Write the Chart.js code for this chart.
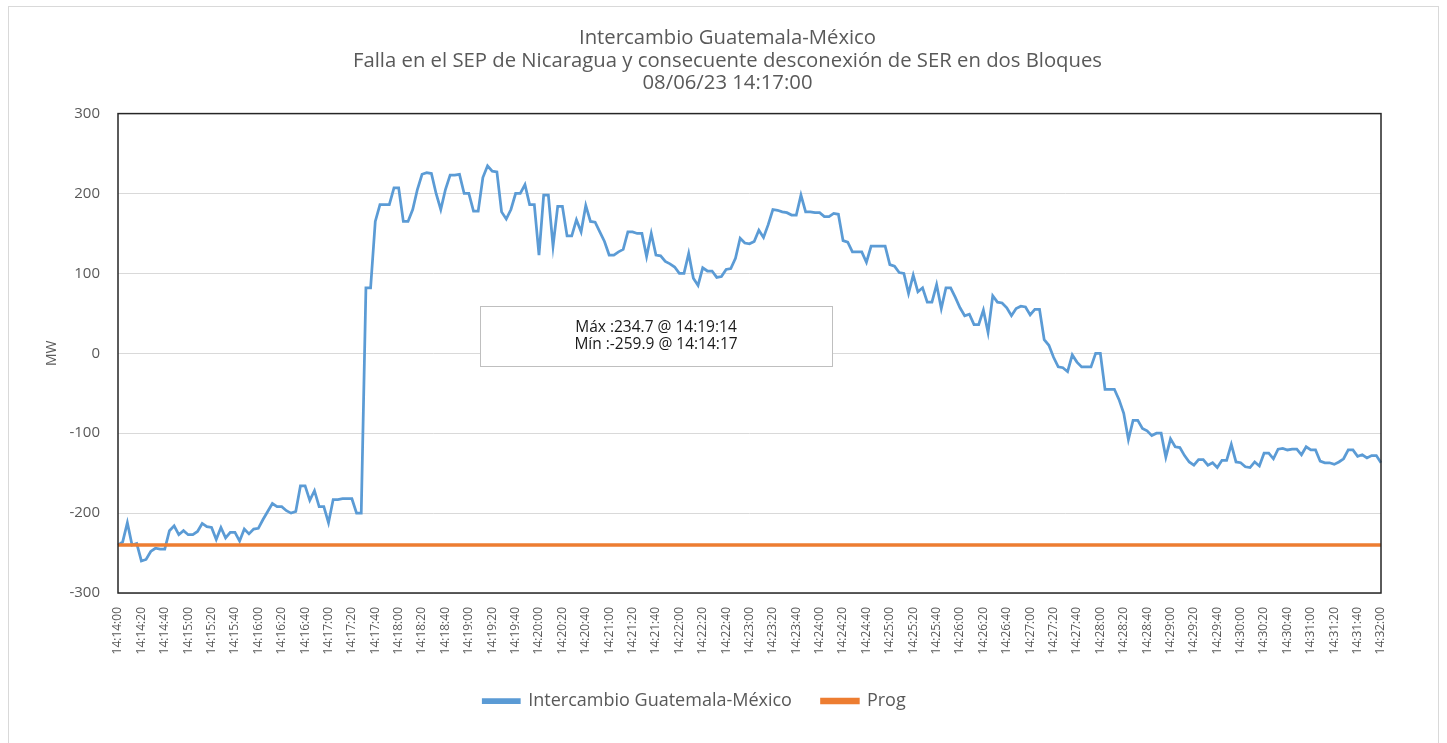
<!DOCTYPE html>
<html lang="es">
<head>
<meta charset="UTF-8">
<title>Intercambio Guatemala-México</title>
<script src="https://cdn.jsdelivr.net/npm/chart.js@4.4.0/dist/chart.umd.min.js"></script>
<style>
html,body{margin:0;padding:0;background:#fff;}
#wrap{width:1447px;height:743px;}
</style>
</head>
<body>
<div id="wrap"><canvas id="grafica" width="1447" height="743"></canvas></div>
<script>
// muestras cada 4 s, de 14:14:00 a 14:32:00
const inicio = 14 * 3600 + 14 * 60;
const paso = 4;

const intercambio = [
  -240, -236, -212, -240, -238, -259.9, -258, -248, -244, -245,
  -245, -222, -216, -227, -222, -227, -227, -223, -213, -217,
  -218, -233, -218, -231, -224, -224, -235, -220, -226, -220,
  -219, -208, -198, -188, -192, -192, -197, -200, -198, -166,
  -166, -184, -172, -192, -192, -212, -183, -183, -182, -182,
  -182, -200, -200, 82, 82, 165, 186, 186, 186, 207,
  207, 165, 165, 180, 205, 224, 226, 225, 200, 180,
  205, 223, 223, 224, 200, 200, 178, 178, 220, 234.7,
  228, 227, 177, 168, 180, 200, 200, 211, 186, 186,
  123, 198, 198, 134, 184, 184, 147, 147, 167, 152,
  185, 165, 164, 152, 140, 123, 123, 127, 130, 152,
  152, 150, 150, 121, 150, 123, 122, 115, 112, 108,
  100, 100, 125, 94, 85, 107, 103, 103, 95, 96,
  105, 106, 119, 144, 138, 137, 140, 154, 145, 161,
  180, 179, 177, 176, 173, 173, 198, 177, 177, 176,
  176, 171, 171, 175, 174, 141, 139, 127, 127, 127,
  114, 134, 134, 134, 134, 111, 109, 101, 100, 75,
  98, 77, 82, 64, 64, 86, 56, 82, 82, 70,
  57, 47, 49, 36, 36, 54, 26, 72, 64, 63,
  57, 47, 56, 59, 58, 48, 55, 55, 17, 10,
  -5, -17, -18, -23, -2, -11, -17, -17, -17, 0,
  0, -45, -45, -45, -58, -75, -108, -84, -84, -94,
  -97, -103, -100, -100, -130, -107, -117, -118, -128, -136,
  -140, -133, -133, -140, -137, -143, -134, -134, -114, -136,
  -137, -142, -143, -136, -141, -125, -125, -132, -120, -119,
  -121, -120, -120, -127, -117, -121, -121, -135, -137, -137,
  -139, -136, -132, -121, -121, -129, -127, -131, -128, -128,
  -137
];

const prog = -240;

const titulo = [
  'Intercambio Guatemala-México',
  'Falla en el SEP de Nicaragua y consecuente desconexión de SER en dos Bloques',
  '08/06/23 14:17:00'
];
const notas = ['Máx :234.7 @ 14:19:14', 'Mín :-259.9 @ 14:14:17'];

function hora(s) {
  const h = Math.floor(s / 3600), m = Math.floor(s / 60) % 60, x = s % 60;
  return [h, m, x].map(v => String(v).padStart(2, '0')).join(':');
}
const tiempos = intercambio.map((_, i) => hora(inicio + i * paso));

const fuente = "'Open Sans', 'Liberation Sans', sans-serif";
const gris = '#595959';

// marco exterior, borde del area y cuadro de max/min
const marco = {
  id: 'marco',
  afterLayout(chart) {
    // el titulo va centrado en todo el ancho, no solo hasta el borde derecho del area
    const t = chart.titleBlock;
    if (t) { t.left += 33; t.right += 33; }
  },
  beforeDraw(chart) {
    const c = chart.ctx;
    c.save();
    c.fillStyle = '#fff';
    c.fillRect(0, 0, chart.width, chart.height);
    c.strokeStyle = '#d9d9d9';
    c.lineWidth = 1;
    c.strokeRect(8.5, 6.5, 1430, 760);
    c.restore();
  },
  afterDatasetsDraw(chart) {
    const a = chart.chartArea, c = chart.ctx;
    c.save();
    c.strokeStyle = '#262626';
    c.lineWidth = 1.5;
    c.strokeRect(a.left, a.top, a.right - a.left, a.bottom - a.top);

    c.fillStyle = '#fff';
    c.fillRect(480.5, 306.5, 352, 60);
    c.strokeStyle = '#bfbfbf';
    c.lineWidth = 1;
    c.strokeRect(480.5, 306.5, 352, 60);
    c.fillStyle = '#1a1a1a';
    c.font = "15.5px " + fuente;
    c.textAlign = 'center';
    c.textBaseline = 'middle';
    c.fillText(notas[0], 656, 328);
    c.fillText(notas[1], 656, 345);
    c.restore();
  }
};

new Chart(document.getElementById('grafica'), {
  type: 'line',
  data: {
    labels: tiempos,
    datasets: [{
      label: 'Intercambio Guatemala-México',
      data: intercambio,
      borderColor: '#5B9BD5',
      backgroundColor: '#5B9BD5',
      borderWidth: 2.75,
      pointRadius: 0,
      order: 1
    }, {
      label: 'Prog',
      data: [{x: tiempos[0], y: prog}, {x: tiempos[tiempos.length - 1], y: prog}],
      borderColor: '#ED7D31',
      backgroundColor: '#ED7D31',
      borderWidth: 3.5,
      pointRadius: 0,
      order: 0
    }]
  },
  options: {
    responsive: false,
    animation: false,
    layout: {padding: {top: 0, left: 8, right: 66, bottom: 23}},
    plugins: {
      title: {
        display: true,
        text: titulo,
        color: gris,
        font: {family: fuente, size: 20.3, weight: 'normal', lineHeight: 1.11},
        padding: {top: 27, bottom: 19}
      },
      legend: {
        position: 'bottom',
        labels: {
          color: gris,
          boxWidth: 36,
          boxHeight: 3,
          padding: 30,
          font: {family: fuente, size: 18},
          sort: (a, b) => a.datasetIndex - b.datasetIndex
        }
      },
      tooltip: {enabled: false}
    },
    scales: {
      x: {
        type: 'category',
        offset: false,
        grid: {display: false},
        border: {display: false},
        ticks: {
          autoSkip: false,
          maxRotation: 90,
          minRotation: 90,
          color: gris,
          padding: 6,
          font: {family: fuente, size: 12},
          callback: function (v, i) { return i % 5 === 0 ? this.getLabelForValue(v) : null; }
        },
        afterFit: s => { s.height = 69; }
      },
      y: {
        min: -300,
        max: 300,
        grid: {color: '#d9d9d9', drawTicks: false},
        border: {display: false},
        ticks: {
          stepSize: 100,
          color: gris,
          padding: 18,
          font: {family: fuente, size: 15}
        },
        title: {
          display: true,
          text: 'MW',
          color: gris,
          font: {family: fuente, size: 14},
          padding: {top: 36, bottom: 0}
        },
        afterFit: s => { s.width = 110; }
      }
    }
  },
  plugins: [marco]
});
</script>
</body>
</html>
